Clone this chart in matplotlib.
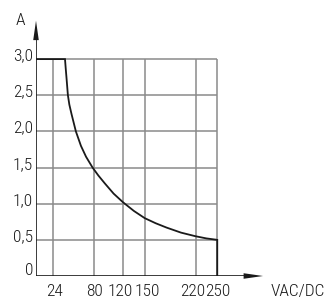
import numpy as np
import matplotlib
matplotlib.use("Agg")
import matplotlib.pyplot as plt

# values
volts = [0, 40, 41, 42, 44, 46, 49, 55, 62, 69, 78, 86, 95, 107, 120, 135, 150, 165, 180, 200, 220, 235, 250, 250]
amps = [3.0, 3.0, 2.87, 2.75, 2.5, 2.37, 2.24, 2.0, 1.8, 1.65, 1.5, 1.39, 1.28, 1.14, 1.02, 0.9, 0.8, 0.73, 0.67, 0.6, 0.55, 0.52, 0.5, 0.0]
x_ticks = [24, 80, 120, 150, 220, 250]
y_ticks = [0.5, 1.0, 1.5, 2.0, 2.5, 3.0]
y_labels = ["0", "0,5", "1,0", "1,5", "2,0", "2,5", "3,0"]
x_title = "VAC/DC"
y_title = "A"

fig = plt.figure(figsize=(3.32, 3.02), dpi=100)
ax = fig.add_axes([36/332, 26/302, 232/332, 261/302])
ax.set_xlim(0, 320)
ax.set_ylim(0, 3.61)
ax.axis("off")

grid_c = "#8a8a8a"
ax.vlines(x_ticks, 0, 3.0, color=grid_c, lw=1.1)
ax.hlines(y_ticks, 0, 250, color=grid_c, lw=1.1)

ax.plot(volts, amps, color="#1a1a1a", lw=1.3, solid_joinstyle="miter")

# axes with arrows
ax.plot([0, 0], [0, 3.3], color="#1a1a1a", lw=1.2)
ax.plot([0, 295], [0, 0], color="#1a1a1a", lw=1.2)
ax.annotate("", xy=(317, 0), xytext=(288, 0),
            arrowprops=dict(arrowstyle="-|>,head_length=1.4,head_width=0.2",
                            color="#1a1a1a", lw=0))
ax.annotate("", xy=(0, 3.57), xytext=(0, 3.2),
            arrowprops=dict(arrowstyle="-|>,head_length=1.4,head_width=0.2",
                            color="#1a1a1a", lw=0))

font = dict(family=["Roboto Condensed", "DejaVu Sans"], weight="light",
            fontsize=12.5, color="#1a1a1a")
for v, lab in zip([0] + y_ticks, y_labels):
    if v == 0:
        ax.text(-4, 0.08, lab, ha="right", va="center", **font)
    else:
        ax.text(-4, v + 0.045, lab, ha="right", va="center", **font)
# labels are nudged apart a little, as in the drawing
nudge = {24: 2, 80: 1, 120: -4, 150: 4, 220: -4, 250: 1}
for v in x_ticks:
    ax.text(v + nudge[v], -0.21, str(v), ha="center", va="center", **font)
ax.text(361, -0.21, x_title, ha="center", va="center", **font)
ax.text(-22, 3.53, y_title, ha="center", va="center", **font)

fig.savefig("out.png", dpi=100)
